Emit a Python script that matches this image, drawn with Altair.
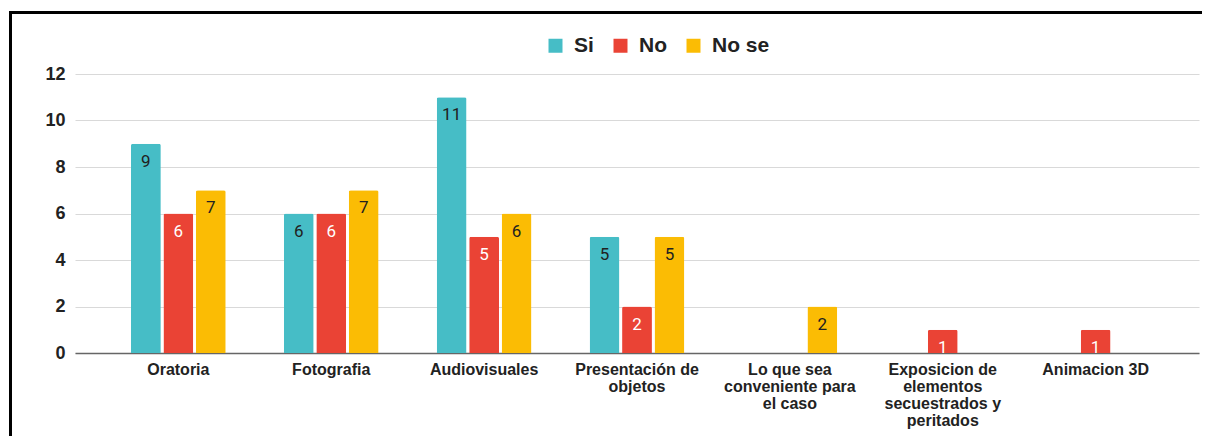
import altair as alt
import pandas as pd

categories = ["Oratoria", "Fotografia", "Audiovisuales", "Presentación de objetos",
              "Lo que sea conveniente para el caso",
              "Exposicion de elementos secuestrados y peritados", "Animacion 3D"]
label_lines = [["Oratoria"], ["Fotografia"], ["Audiovisuales"], ["Presentación de", "objetos"],
               ["Lo que sea", "conveniente para", "el caso"],
               ["Exposicion de", "elementos", "secuestrados y", "peritados"], ["Animacion 3D"]]
series = ["Si", "No", "No se"]
si = [9, 6, 11, 5, 0, 0, 0]
no = [6, 6, 5, 2, 0, 1, 1]
no_se = [7, 7, 6, 5, 2, 0, 0]
colors = ["#46bdc6", "#ea4335", "#fbbc04"]

rows = []
for s, vals in zip(series, [si, no, no_se]):
    for c, v in zip(categories, vals):
        rows.append({"categoria": c, "serie": s, "valor": v})
df = pd.DataFrame(rows)

# label expression for wrapped labels
expr = "datum.value"
for c, lines in zip(categories, label_lines):
    arr = "[" + ",".join("'" + l + "'" for l in lines) + "]"
    expr = f"datum.value == '{c}' ? {arr} : ({expr})"

x = alt.X("categoria:N", sort=categories, title=None,
          scale=alt.Scale(paddingInner=0.38, paddingOuter=0.366),
          axis=alt.Axis(labelAngle=0, labelFont="Liberation Sans", labelFontWeight="bold",
                        labelFontSize=16, labelColor="#222222", labelPadding=8,
                        labelLineHeight=17, labelLimit=300, labelExpr=expr,
                        ticks=False, domainColor="#666666", domainWidth=1.5, grid=False))
xo = alt.XOffset("serie:N", sort=series,
                 scale=alt.Scale(domain=series, paddingInner=0.08))
y = alt.Y("valor:Q", title=None,
          scale=alt.Scale(domain=[0, 12]),
          axis=alt.Axis(values=[0, 2, 4, 6, 8, 10, 12], labelFont="Liberation Sans",
                        labelFontWeight="bold", labelFontSize=18, labelColor="#222222",
                        labelPadding=10, ticks=False, domain=False, gridColor="#d9d9d9",
                        gridWidth=1))

base = alt.Chart(df).transform_filter("datum.valor > 0")

bars = base.mark_bar(cornerRadiusTopLeft=2, cornerRadiusTopRight=2).encode(
    x=x, xOffset=xo, y=y,
    color=alt.Color("serie:N", sort=series,
                    scale=alt.Scale(domain=series, range=colors),
                    legend=alt.Legend(title=None, orient="none", direction="horizontal",
                                      legendX=470, legendY=-39, symbolType="square",
                                      symbolSize=196, symbolStrokeWidth=0,
                                      labelFont="Liberation Sans", labelFontWeight="bold",
                                      labelFontSize=21, labelColor="#222222",
                                      labelOffset=8, columnPadding=16, padding=0)),
)

texts = base.mark_text(baseline="middle", dy=18, font="Roboto", fontSize=17).encode(
    x=x, xOffset=xo, y=y,
    text=alt.Text("valor:Q"),
    color=alt.condition(alt.datum.serie == "No", alt.value("white"), alt.value("#212121")),
)

one = pd.DataFrame({"a": [0]})
left_edge = alt.Chart(one).mark_rule(color="black", strokeWidth=3).encode(
    x=alt.value(-64.5), y=alt.value(-63), y2=alt.value(362))
top_edge = alt.Chart(one).mark_rule(color="black", strokeWidth=3).encode(
    x=alt.value(-66), x2=alt.value(1127), y=alt.value(-61.5))

chart = alt.layer(bars, texts, left_edge, top_edge).properties(
    width=1124, height=279,
    autosize=alt.AutoSizeParams(type="none"),
    padding={"left": 67, "top": 66, "right": 3, "bottom": 83},
).configure_view(stroke=None).resolve_scale(color="independent")

chart.save("out.html", embed_options={"renderer": "svg", "actions": False})
